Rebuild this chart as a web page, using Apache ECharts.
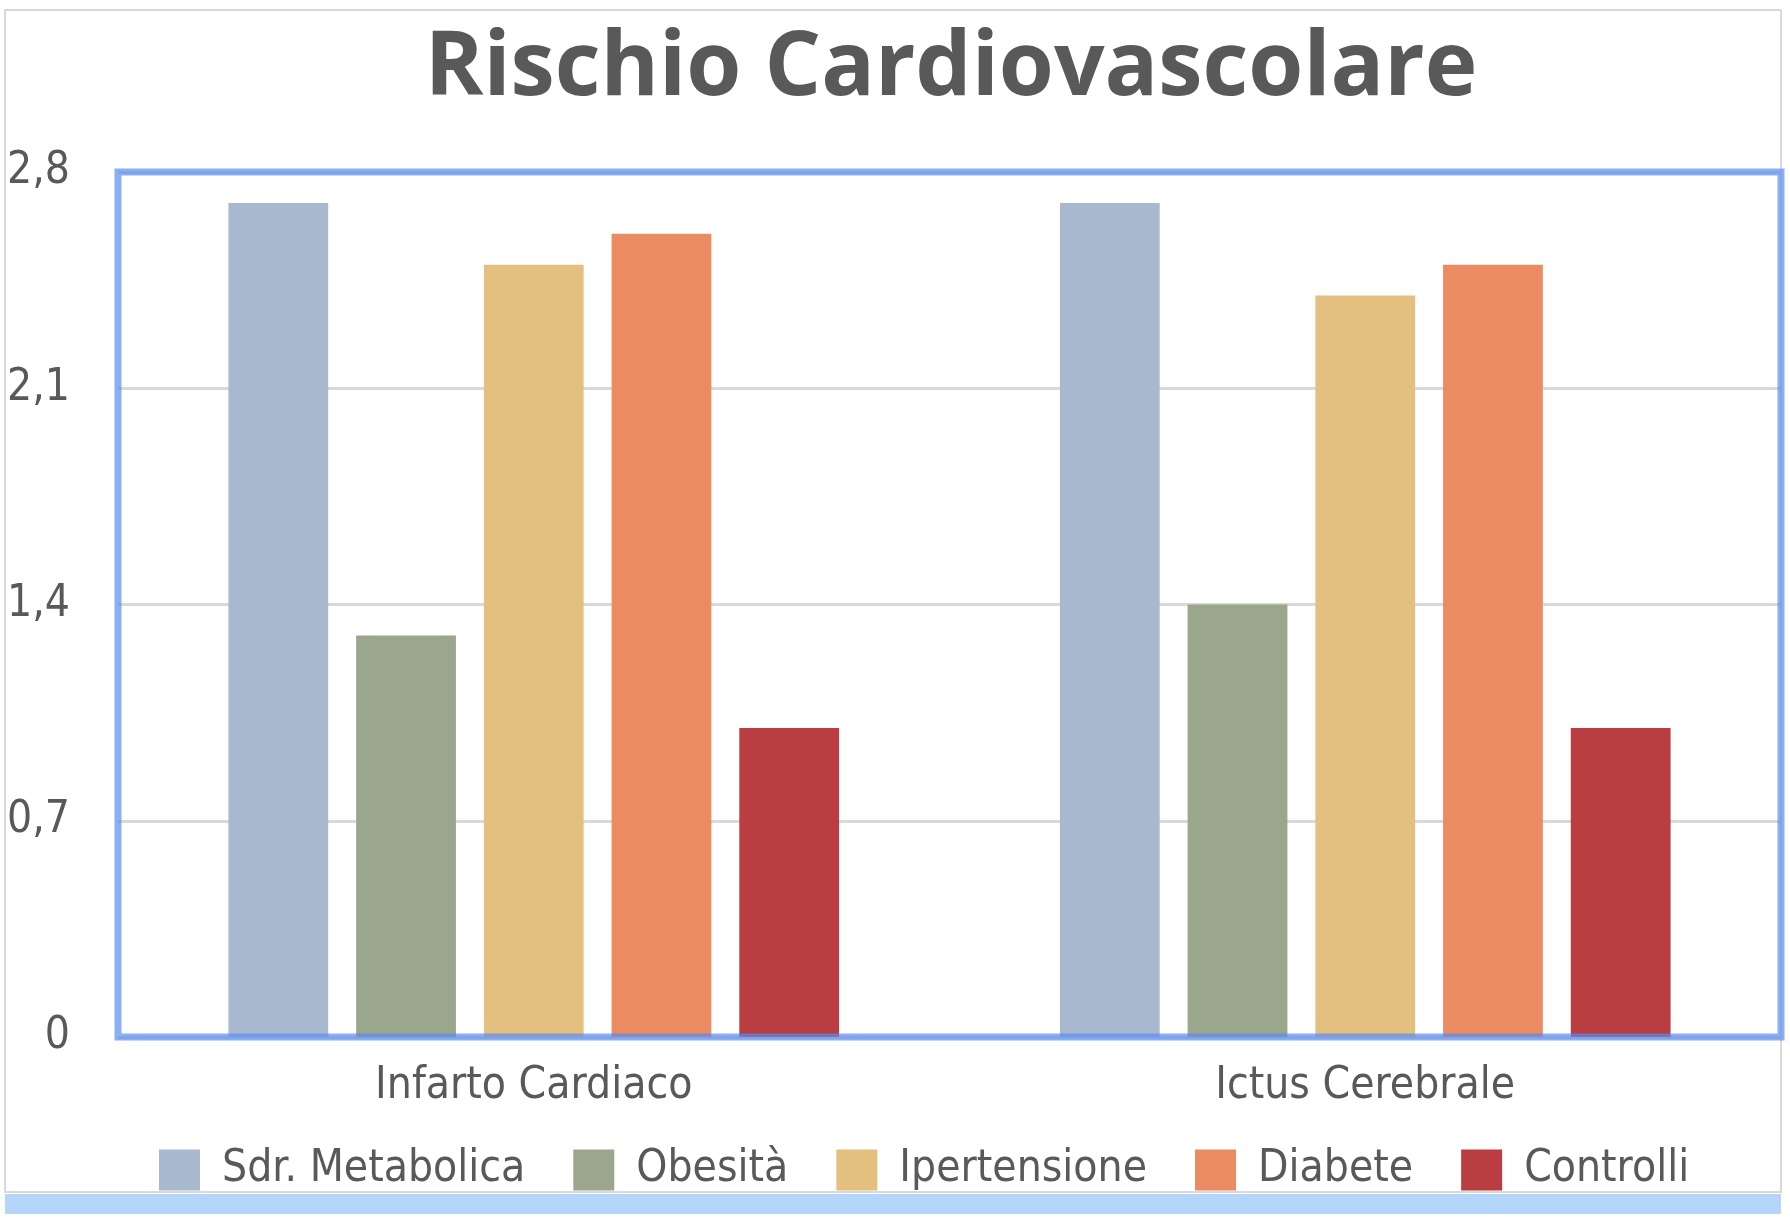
<!DOCTYPE html>
<html>
<head>
<meta charset="utf-8">
<script src="https://cdn.jsdelivr.net/npm/echarts@6/dist/echarts.min.js"></script>
<style>
html,body{margin:0;padding:0;background:#fff;}
#chart{width:1790px;height:1224px;}
</style>
</head>
<body>
<div id="chart"></div>
<script>
const titleText = "Rischio Cardiovascolare";
const categories = ["Infarto Cardiaco", "Ictus Cerebrale"];
const seriesNames = ["Sdr. Metabolica", "Obesità", "Ipertensione", "Diabete", "Controlli"];
const sdrMetabolica = [2.7, 2.7];
const obesita = [1.3, 1.4];
const ipertensione = [2.5, 2.4];
const diabete = [2.6, 2.5];
const controlli = [1.0, 1.0];
const colors = ["#a8b9cf", "#9aa78c", "#e3c07f", "#eb8b61", "#b93d41"];
const yMin = 0, yMax = 2.8, yInterval = 0.7;

const FONT = "'DejaVu Sans Condensed', 'Liberation Sans Narrow', 'DejaVu Sans', sans-serif";
const seriesData = [sdrMetabolica, obesita, ipertensione, diabete, controlli];

const chart = echarts.init(document.getElementById('chart'));
const gridL = 118, gridR = 9, gridT = 172, gridB = 187;

chart.setOption({
  animation: false,
  backgroundColor: '#ffffff',
  color: colors,
  title: {
    text: titleText,
    left: 946,
    top: 20,
    textAlign: 'center',
    textStyle: { fontFamily: "'Open Sans', Lato, sans-serif", fontWeight: 'bold', fontSize: 89, color: '#595959' }
  },
  grid: { left: gridL, right: gridR, top: gridT, bottom: gridB, containLabel: false },
  legend: {
    left: 154,
    top: 1143,
    itemWidth: 41,
    itemHeight: 41,
    itemGap: 48,
    icon: 'rect',
    data: seriesNames,
    textStyle: { fontFamily: FONT, fontSize: 44, color: '#595959', padding: [3, 0, 0, 17] }
  },
  xAxis: {
    type: 'category',
    data: categories,
    axisLine: { show: false },
    axisTick: { show: false },
    axisLabel: { fontFamily: FONT, fontSize: 44, color: '#595959', margin: 28 }
  },
  yAxis: {
    type: 'value',
    min: yMin,
    max: yMax,
    interval: yInterval,
    axisLine: { show: false },
    axisTick: { show: false },
    splitLine: { lineStyle: { color: '#d9d9d9', width: 3 } },
    axisLabel: {
      fontFamily: FONT, fontSize: 44, color: '#595959', margin: 48,
      formatter: v => (Math.round(v * 10) / 10).toString().replace('.', ',')
    }
  },
  series: seriesNames.map((name, i) => ({
    name: name,
    type: 'bar',
    data: seriesData[i],
    barWidth: '12%',
    barGap: '28%',
    itemStyle: { color: colors[i] }
  })),
  graphic: [
    { type: 'rect', z: 0, silent: true, shape: { x: 5, y: 10, width: 1776, height: 1182 }, style: { fill: 'none', stroke: '#d9d9d9', lineWidth: 2 } },
    { type: 'rect', z: 0, silent: true, shape: { x: 5, y: 1194, width: 1776, height: 20 }, style: { fill: '#b3d6fa' } },
    { type: 'rect', z: 100, silent: true, shape: { x: gridL, y: gridT, width: 1790 - gridL - gridR, height: 1224 - gridT - gridB }, style: { fill: 'none', stroke: 'rgba(90,140,240,0.7)', lineWidth: 7 } }
  ]
});
</script>
</body>
</html>
